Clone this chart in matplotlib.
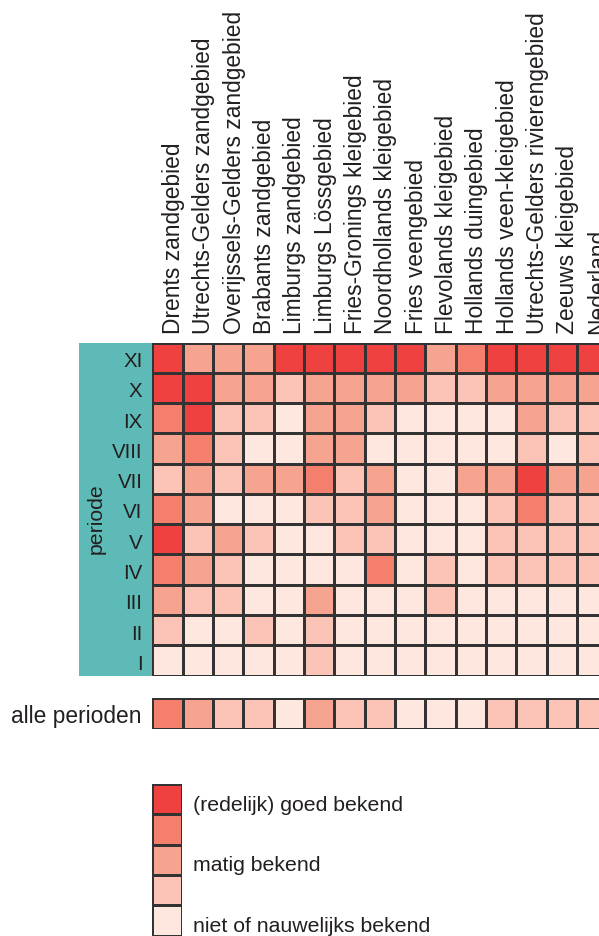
import numpy as np
import matplotlib
matplotlib.use("Agg")
import matplotlib.pyplot as plt
from matplotlib.colors import ListedColormap, BoundaryNorm
import matplotlib.transforms as mtransforms

plt.rcParams['font.family'] = ['Liberation Sans', 'DejaVu Sans']

regions = ['Drents zandgebied', 'Utrechts-Gelders zandgebied',
           'Overijssels-Gelders zandgebied', 'Brabants zandgebied',
           'Limburgs zandgebied', 'Limburgs Lössgebied',
           'Fries-Gronings kleigebied', 'Noordhollands kleigebied',
           'Fries veengebied', 'Flevolands kleigebied', 'Hollands duingebied',
           'Hollands veen-kleigebied', 'Utrechts-Gelders rivierengebied',
           'Zeeuws kleigebied', 'Nederland']

periods = ['XI', 'X', 'IX', 'VIII', 'VII', 'VI', 'V', 'IV', 'III', 'II', 'I']

r_XI   = [5, 3, 3, 3, 5, 5, 5, 5, 5, 3, 4, 5, 5, 5, 5]
r_X    = [5, 5, 3, 3, 2, 3, 3, 3, 3, 2, 2, 3, 3, 3, 3]
r_IX   = [4, 5, 2, 2, 1, 3, 3, 2, 1, 1, 1, 1, 3, 2, 2]
r_VIII = [3, 4, 2, 1, 1, 3, 3, 1, 1, 1, 1, 1, 2, 1, 2]
r_VII  = [2, 3, 2, 3, 3, 4, 2, 3, 1, 1, 3, 3, 5, 3, 3]
r_VI   = [4, 3, 1, 1, 1, 2, 2, 3, 1, 1, 1, 2, 4, 2, 2]
r_V    = [5, 2, 3, 2, 1, 1, 2, 2, 1, 1, 1, 2, 2, 2, 2]
r_IV   = [4, 3, 2, 1, 1, 1, 1, 4, 1, 2, 1, 2, 2, 2, 2]
r_III  = [3, 2, 2, 1, 1, 3, 1, 1, 1, 2, 1, 1, 1, 1, 1]
r_II   = [2, 1, 1, 2, 1, 2, 1, 1, 1, 1, 1, 1, 1, 1, 1]
r_I    = [1, 1, 1, 1, 1, 2, 1, 1, 1, 1, 1, 1, 1, 1, 1]

alle_perioden = [4, 3, 2, 2, 1, 3, 2, 2, 1, 1, 1, 2, 2, 2, 2]

legend_levels = [5, 4, 3, 2, 1]
legend_labels = ['(redelijk) goed bekend', '', 'matig bekend', '',
                 'niet of nauwelijks bekend']

level_colors = ['#FDE7DF', '#FBC4B6', '#F6A38F', '#F47F6C', '#EF4140']
cmap = ListedColormap(level_colors)
norm = BoundaryNorm([0.5, 1.5, 2.5, 3.5, 4.5, 5.5], cmap.N)

TXT = '#231f20'
EDGE = '#333333'
TEAL = '#5ebab6'
LW = 0.8

W, H = 599, 937
fig = plt.figure(figsize=(W / 100, H / 100), dpi=100)

def px_axes(x0, y0, x1, y1):
    return fig.add_axes([x0 / W, 1 - y1 / H, (x1 - x0) / W, (y1 - y0) / H])

cw = 30.33
gx0 = 152.3
gy0, gy1 = 343.5, 676.5

# teal band
tax = px_axes(79, 344, gx0, 676.7)
tax.set_facecolor(TEAL)
tax.set_xticks([]); tax.set_yticks([])
for s in tax.spines.values():
    s.set_visible(False)
tax.text(0.23, 0.475, 'periode', rotation=90, ha='center', va='center',
         fontsize=15.3, color=TXT, transform=tax.transAxes)

# main grid
ax = px_axes(gx0, gy0, gx0 + cw * len(regions), gy1)
grid = np.array([r_XI, r_X, r_IX, r_VIII, r_VII, r_VI, r_V, r_IV, r_III, r_II, r_I])
ax.pcolormesh(np.arange(len(regions) + 1), np.arange(len(periods) + 1), grid,
              cmap=cmap, norm=norm, edgecolors=EDGE, linewidth=LW)
ax.set_xlim(0, len(regions))
ax.set_ylim(len(periods), 0)
ax.set_xticks([]); ax.set_yticks([])
for s in ax.spines.values():
    s.set_visible(False)

col_tr = mtransforms.offset_copy(ax.transData, fig=fig, x=6, y=9, units='dots')
for i, name in enumerate(regions):
    ax.text(i + 0.5, 0, name, rotation=90, ha='center', va='bottom',
            fontsize=16.4, color=TXT, transform=col_tr, clip_on=False)

row_tr = mtransforms.offset_copy(ax.transData, fig=fig, x=-10, y=-3, units='dots')
for j, p in enumerate(periods):
    ax.text(0, j + 0.5, p, ha='right', va='center', fontsize=14.8,
            color=TXT, transform=row_tr)

# alle perioden row
aax = px_axes(gx0, 699, gx0 + cw * len(regions), 729.5)
aax.pcolormesh(np.arange(len(regions) + 1), [0, 1], np.array([alle_perioden]),
               cmap=cmap, norm=norm, edgecolors=EDGE, linewidth=LW)
aax.set_xlim(0, len(regions)); aax.set_ylim(0, 1)
aax.set_xticks([]); aax.set_yticks([])
for s in aax.spines.values():
    s.set_visible(False)
a_tr = mtransforms.offset_copy(aax.transData, fig=fig, x=-10.5, y=-2, units='dots')
aax.text(0, 0.5, 'alle perioden', ha='right', va='center', fontsize=16.4,
         color=TXT, transform=a_tr)

# legend
lax = px_axes(gx0, 785, gx0 + 30, 785 + 5 * cw)
lax.pcolormesh([0, 1], np.arange(len(legend_levels) + 1),
               np.array(legend_levels).reshape(-1, 1),
               cmap=cmap, norm=norm, edgecolors=EDGE, linewidth=LW)
lax.set_xlim(0, 1); lax.set_ylim(len(legend_levels), 0)
lax.set_xticks([]); lax.set_yticks([])
for s in lax.spines.values():
    s.set_visible(False)
l_tr = mtransforms.offset_copy(lax.transData, fig=fig, x=11, y=-5, units='dots')
for k, lab in enumerate(legend_labels):
    if lab:
        lax.text(1, k + 0.5, lab, ha='left', va='center', fontsize=15.3,
                 color=TXT, transform=l_tr, clip_on=False)

fig.savefig('out.png', dpi=100)
